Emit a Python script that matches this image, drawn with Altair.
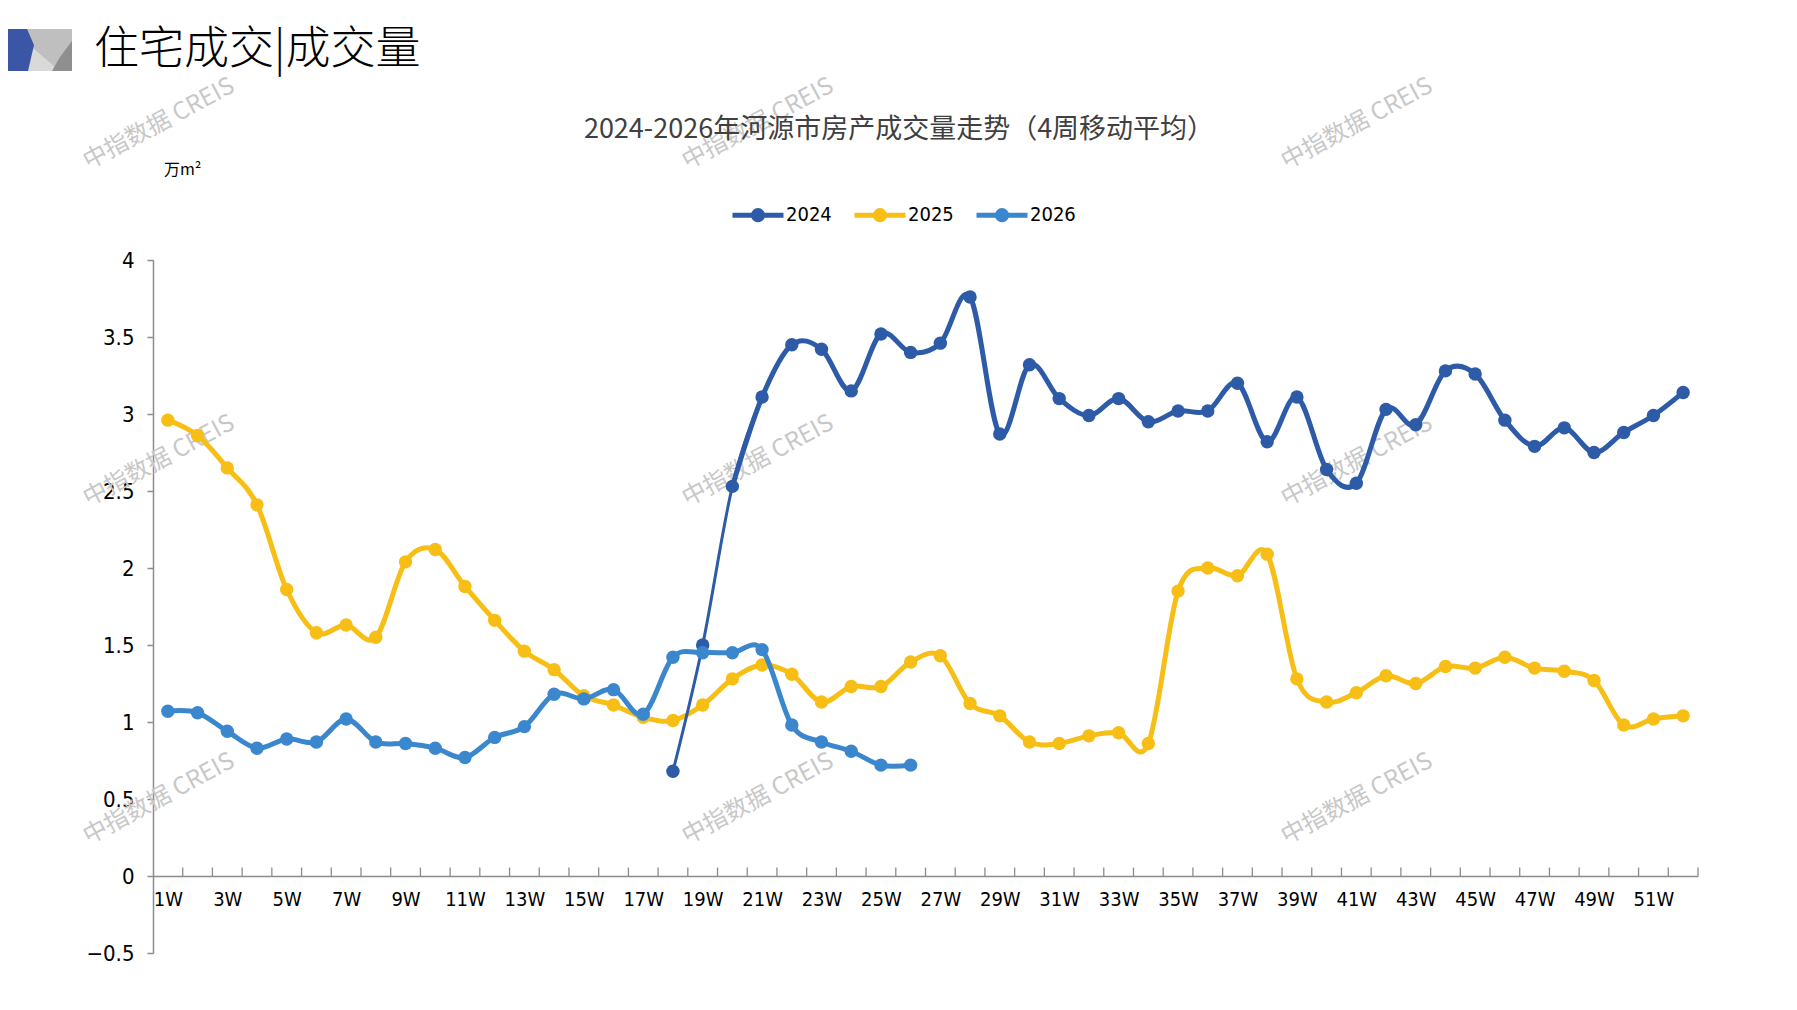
import altair as alt
import pandas as pd

# ---------------- data ----------------
weeks = [f"{i}W" for i in range(1, 53)]
years = ["2024", "2025", "2026"]
colors = ["#2E5BA8", "#F7BE16", "#3B87CE"]

weeks_2024 = weeks[17:]
vals_2024 = [0.68, 1.50, 2.53, 3.11, 3.45, 3.42, 3.15, 3.52, 3.40, 3.46,
             3.76, 2.87, 3.32, 3.10, 2.99, 3.10, 2.95, 3.02, 3.02, 3.20,
             2.82, 3.11, 2.64, 2.55, 3.03, 2.93, 3.28, 3.26, 2.96, 2.79,
             2.91, 2.75, 2.88, 2.99, 3.14]

weeks_2025 = weeks
vals_2025 = [2.96, 2.86, 2.65, 2.41, 1.86, 1.58, 1.63, 1.55, 2.04, 2.12,
             1.88, 1.66, 1.46, 1.34, 1.17, 1.11, 1.03, 1.01, 1.11, 1.28,
             1.37, 1.31, 1.13, 1.23, 1.23, 1.39, 1.43, 1.12, 1.04, 0.87,
             0.86, 0.91, 0.93, 0.86, 1.85, 2.00, 1.95, 2.09, 1.28, 1.13,
             1.19, 1.30, 1.25, 1.36, 1.35, 1.42, 1.35, 1.33, 1.27, 0.98,
             1.02, 1.04]

weeks_2026 = weeks[:26]
vals_2026 = [1.07, 1.06, 0.94, 0.83, 0.89, 0.87, 1.02, 0.87, 0.86, 0.83,
             0.77, 0.90, 0.97, 1.18, 1.15, 1.21, 1.05, 1.42, 1.45, 1.45,
             1.47, 0.98, 0.87, 0.81, 0.72, 0.72]

# the first two 2024 segments (18W-20W) are drawn with a thinner stroke
thin_2024_weeks = weeks[17:20]

y_ticks = [-0.5, 0, 0.5, 1, 1.5, 2, 2.5, 3, 3.5, 4]
x_label_weeks = weeks[::2]

header_text = "住宅成交|成交量"
title_text = "2024-2026年河源市房产成交量走势（4周移动平均）"
unit_text = "万m²"
watermark_text = "中指数据 CREIS"

# ---------------- layout ----------------
W, H = 1545, 693
step = W / len(weeks)
px_per_unit = H / (4 - (-0.5))
num_font = "Liberation Sans Narrow, Arial Narrow, DejaVu Sans Condensed, sans-serif"
cjk_font = "Noto Sans CJK SC"
axis_grey = "#8C8C8C"

rows = []
for yr, wk, vs in [("2024", weeks_2024, vals_2024),
                   ("2025", weeks_2025, vals_2025),
                   ("2026", weeks_2026, vals_2026)]:
    for w, v in zip(wk, vs):
        rows.append({"week": w, "year": yr, "value": v})
df = pd.DataFrame(rows)

x_scale = alt.Scale(type="point", domain=weeks, padding=0.5)
x_enc = alt.X(
    "week:N", sort=weeks, scale=x_scale,
    axis=alt.Axis(values=x_label_weeks, title=None, offset=-0.5 * px_per_unit,
                  domainColor=axis_grey, domainWidth=1.5, ticks=False,
                  labelAngle=0, labelAlign="center", labelFlush=False,
                  labelFont=num_font, labelFontSize=20,
                  labelColor="#000000", labelPadding=23, grid=False),
)
y_enc = alt.Y(
    "value:Q",
    scale=alt.Scale(domain=[-0.5, 4], nice=False, zero=False),
    axis=alt.Axis(values=y_ticks, title=None, format="~g", tickSize=6,
                  tickColor=axis_grey, domainColor=axis_grey, domainWidth=1.5,
                  tickWidth=1.5, labelFont=num_font, labelFontSize=22,
                  labelColor="#000000", labelPadding=13, grid=False),
)

r = 0.18
k = 0.5523 * r
legend_path = (f"M-1,0H1M{r},0C{r},{k} {k},{r} 0,{r}C{-k},{r} {-r},{k} {-r},0"
               f"C{-r},{-k} {-k},{-r} 0,{-r}C{k},{-r} {r},{-k} {r},0Z")

legend = alt.Legend(
    title=None, orient="none", legendX=577, legendY=-73, direction="horizontal",
    symbolType=legend_path, symbolSize=51 * 51, symbolStrokeWidth=5,
    symbolOpacity=1,
    labelFont=num_font, labelFontSize=20, labelColor="#000000",
    labelOffset=0, columnPadding=12,
)
color_enc = alt.Color("year:N", scale=alt.Scale(domain=years, range=colors), legend=legend)

layers = []

# watermarks
wm_cols = [6, 605, 1204]
wm_rows = [-136, 201, 539]
wm_df = pd.DataFrame({"t": [watermark_text]})
for yy in wm_rows:
    for xx in wm_cols:
        layers.append(
            alt.Chart(wm_df).mark_text(font=cjk_font, fontSize=24, color="#C8C8C8",
                                       angle=332, align="center", baseline="middle")
            .encode(text="t:N", x=alt.value(xx), y=alt.value(yy))
        )

# x-axis upward ticks at band boundaries
tick_df = pd.DataFrame({"week": weeks[1:]})
layers.append(
    alt.Chart(tick_df).mark_rule(color=axis_grey, strokeWidth=1.3, xOffset=-step / 2)
    .encode(x=alt.X("week:N", sort=weeks, scale=x_scale), y=alt.datum(0), y2=alt.datum(0.055))
)
end_df = pd.DataFrame({"week": weeks[-1:]})
layers.append(
    alt.Chart(end_df).mark_rule(color=axis_grey, strokeWidth=1.3, xOffset=step / 2)
    .encode(x=alt.X("week:N", sort=weeks, scale=x_scale), y=alt.datum(0), y2=alt.datum(0.055))
)

# series (drawing order: 2025 at the bottom, then 2024, 2026 on top)
for yr in ["2025", "2024", "2026"]:
    sub = df[df["year"] == yr]
    base = alt.Chart(sub).encode(x=x_enc, y=y_enc, color=color_enc)
    if yr == "2024":
        layers.append(base.mark_line(interpolate="cardinal", tension=0, strokeWidth=3))
        thick = sub[~sub["week"].isin(thin_2024_weeks[:-1])]
        layers.append(alt.Chart(thick).encode(x=x_enc, y=y_enc, color=color_enc)
                      .mark_line(interpolate="cardinal", tension=0, strokeWidth=5))
    else:
        layers.append(base.mark_line(interpolate="cardinal", tension=0, strokeWidth=5))
    layers.append(base.mark_point(filled=True, size=180, opacity=1, strokeWidth=0))

# texts
layers.append(
    alt.Chart(pd.DataFrame({"t": [title_text]})).mark_text(
        font=cjk_font, fontSize=27, color="#404040", align="center", baseline="middle")
    .encode(text="t:N", x=alt.value(746), y=alt.value(-130))
)
layers.append(
    alt.Chart(pd.DataFrame({"t": [unit_text]})).mark_text(
        font=cjk_font, fontSize=16, color="#000000", align="left", baseline="middle")
    .encode(text="t:N", x=alt.value(11), y=alt.value(-90))
)
layers.append(
    alt.Chart(pd.DataFrame({"t": [header_text]})).mark_text(
        font=cjk_font, fontSize=45, fontWeight=300, color="#000000",
        align="left", baseline="middle")
    .encode(text="t:N", x=alt.value(-59), y=alt.value(-210))
)

# logo (decorative shapes in pixel units: size 4 -> scale 1)
logo_x, logo_y = -153, -231
logo_shapes = [
    ("M0,0H72V42H0Z", "#BFBFBF"),
    ("M22,10L60,42H22Z", "#D9D9D9"),
    ("M72,12V42H52L60,28Z", "#8F8F8F"),
    ("M0,0H27L34,16L28,42H0Z", "#3A56A5"),
]
dummy = pd.DataFrame({"a": [0]})
for path, col in logo_shapes:
    layers.append(
        alt.Chart(dummy).mark_point(shape=path, size=4, filled=True, color=col,
                                    opacity=1, strokeWidth=0)
        .encode(x=alt.value(logo_x), y=alt.value(logo_y))
    )

chart = alt.layer(*layers).properties(
    width=W, height=H, background="#FFFFFF",
    autosize=alt.AutoSizeParams(type="none"),
    padding={"left": 145, "top": 252, "right": 91, "bottom": 40},
).configure_view(stroke=None, strokeWidth=0)

chart.save("out.html", embed_options={"renderer": "svg", "actions": False})
